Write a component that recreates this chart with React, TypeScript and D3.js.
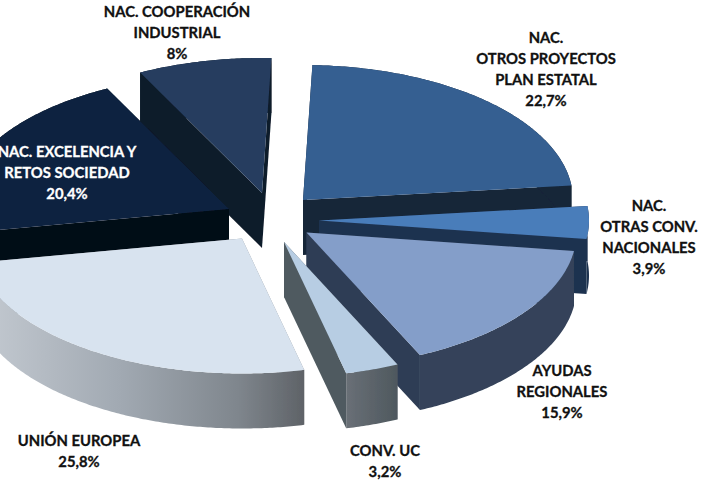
import React from "react";
import * as d3 from "d3";

const WIDTH = 707;
const HEIGHT = 486;

const sliceKeys = ["otros", "otras", "ayudas", "uc", "ue", "excelencia", "cooperacion"];
const sliceValues = [22.7, 3.9, 15.9, 3.2, 25.8, 20.4, 8];
const topColors = ["#355f91", "#4a7dba", "#849ec9", "#b7cde3", "#d8e3ef", "#0f2440", "#253d5f"];
const wallColors = ["#162538", "#1f3350", "#35435a", "url(#ucWall)", "url(#ueWall)", "#040c16", "#101b2a"];
const radialColors = ["#162538", "#1f3350", "#2f3d54", "#4f5a60", "#8a9097", "#040c16", "#101b2a"];

const labelLines = [
  ["NAC.", "OTROS PROYECTOS", "PLAN ESTATAL", "22,7%"],
  ["NAC.", "OTRAS CONV.", "NACIONALES", "3,9%"],
  ["AYUDAS", "REGIONALES", "15,9%"],
  ["CONV. UC", "3,2%"],
  ["UNIÓN EUROPEA", "25,8%"],
  ["NAC. EXCELENCIA Y", "RETOS SOCIEDAD", "20,4%"],
  ["NAC. COOPERACIÓN", "INDUSTRIAL", "8%"],
];

// layout of the exploded 3D pie
const RADIUS = 270;
const TILT = 0.5;
const DEPTH = 55;
const START = (2 * Math.PI) / 180;
const apexX = [303, 319, 306.5, 284, 242, 229, 262];
const apexY = [200, 220.6, 232.6, 242, 238.5, 209, 193];
const labelX = [546, 649, 562, 385, 79, 67, 177];
const labelY = [43, 211, 376, 456, 446, 157, 17];
const labelFill = ["#111", "#111", "#111", "#111", "#111", "#fff", "#111"];
const LINE = 21;
const paintOrder = [6, 0, 5, 1, 2, 4, 3];

const pie = d3
  .pie<number>()
  .sort(null)
  .startAngle(START)
  .endAngle(START + 2 * Math.PI);
const angles = pie(sliceValues);
const toPath = d3.line<[number, number]>();

function point(i: number, a: number, r: number, drop = 0): [number, number] {
  return [apexX[i] + r * Math.sin(a), apexY[i] - TILT * r * Math.cos(a) + drop];
}
function arcPoints(i: number, a0: number, a1: number, drop = 0) {
  const n = Math.max(2, Math.ceil(Math.abs(a1 - a0) / 0.01));
  return d3.range(n + 1).map((k) => point(i, a0 + ((a1 - a0) * k) / n, RADIUS, drop));
}

export default function App() {
  return (
    <svg
      width={WIDTH}
      height={HEIGHT}
      viewBox={`0 0 ${WIDTH} ${HEIGHT}`}
      style={{ position: "absolute", left: 0, top: 0, background: "#fff" }}
    >
      <defs>
        <linearGradient id="ueWall" gradientUnits="userSpaceOnUse" x1={-30} x2={305} y1={0} y2={0}>
          <stop offset="0" stopColor="#c6ccd3" />
          <stop offset="0.45" stopColor="#a1a9b2" />
          <stop offset="0.8" stopColor="#7f868d" />
          <stop offset="1" stopColor="#5e6267" />
        </linearGradient>
        <linearGradient id="ucWall" gradientUnits="userSpaceOnUse" x1={345} x2={398} y1={0} y2={0}>
          <stop offset="0" stopColor="#6a7077" />
          <stop offset="1" stopColor="#4e585e" />
        </linearGradient>
        <filter id="soft" x="-5%" y="-5%" width="110%" height="110%">
          <feGaussianBlur stdDeviation="0.5" />
        </filter>
      </defs>
      <g filter="url(#soft)">
        {paintOrder.map((i) => {
          const { startAngle: a0, endAngle: a1 } = angles[i];
          const apex = point(i, 0, 0);
          const apexLow = point(i, 0, 0, DEPTH);
          const rim = arcPoints(i, a0, a1);
          const rimLow = arcPoints(i, a0, a1, DEPTH);
          const front = [...rim, ...rimLow.slice().reverse()] as [number, number][];
          const radialA = [apex, rim[0], rimLow[0], apexLow] as [number, number][];
          const radialB = [apex, rim[rim.length - 1], rimLow[rimLow.length - 1], apexLow] as [number, number][];
          return (
            <g key={sliceKeys[i]}>
              <path d={toPath(radialA) + "Z"} fill={radialColors[i]} />
              <path d={toPath(radialB) + "Z"} fill={radialColors[i]} />
              <path d={toPath(front) + "Z"} fill={wallColors[i]} />
              <path d={toPath([apex, ...rim]) + "Z"} fill={topColors[i]} />
            </g>
          );
        })}
      </g>
      {labelLines.map((lines, i) => (
        <text
          key={sliceKeys[i]}
          textAnchor="middle"
          fontFamily="Lato, sans-serif"
          fontWeight={700}
          fontSize={14.8}
          stroke={labelFill[i]}
          strokeWidth={0.3}
          fill={labelFill[i]}
        >
          {lines.map((line, j) => (
            <tspan key={j} x={labelX[i]} y={labelY[i] + j * LINE}>
              {line}
            </tspan>
          ))}
        </text>
      ))}
    </svg>
  );
}
